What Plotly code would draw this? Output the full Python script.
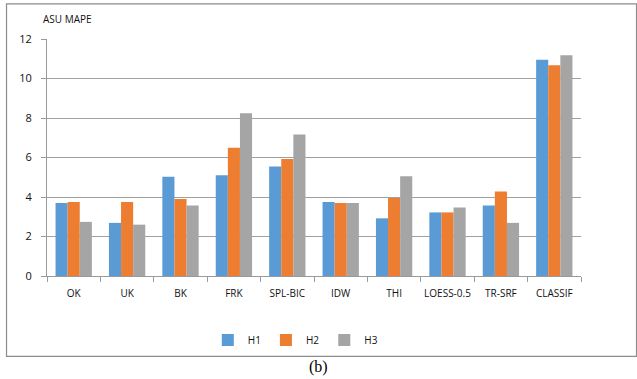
import plotly.graph_objects as go

categories = ["OK", "UK", "BK", "FRK", "SPL-BIC", "IDW", "THI", "LOESS-0.5", "TR-SRF", "CLASSIF"]
h1 = [3.70, 2.69, 5.02, 5.10, 5.55, 3.75, 2.92, 3.22, 3.57, 10.95]
h2 = [3.75, 3.75, 3.90, 6.50, 5.92, 3.70, 3.95, 3.22, 4.28, 10.67]
h3 = [2.74, 2.60, 3.57, 8.24, 7.17, 3.70, 5.05, 3.47, 2.69, 11.18]
series_names = ["H1", "H2", "H3"]
colors = ["#5B9BD5", "#ED7D31", "#A5A5A5"]

fig = go.Figure()
for name, vals, c in zip(series_names, [h1, h2, h3], colors):
    fig.add_trace(go.Bar(x=categories, y=vals, name=name, marker=dict(color=c, line=dict(width=0))))

font = "Open Sans"
fig.update_layout(
    width=637, height=379,
    margin=dict(l=47, r=56, t=39, b=103, autoexpand=False),
    paper_bgcolor="white", plot_bgcolor="white",
    barmode="group", bargap=0.32, bargroupgap=0,
    font=dict(family=font, size=10, color="#111"),
    showlegend=True,
    legend=dict(orientation="h", x=0.465, xanchor="center", y=-0.27, yanchor="middle",
                font=dict(size=10), itemwidth=30, traceorder="normal"),
    xaxis=dict(showgrid=False, showline=True, linecolor="#9a9a9a", linewidth=1, automargin=False,
               tickangle=0,
               ticks="outside", tickson="boundaries", ticklen=5, tickcolor="#9a9a9a",
               tickfont=dict(size=10, family=font), ticklabelstandoff=8),
    yaxis=dict(range=[0, 12], dtick=2, showgrid=True, gridcolor="#a0a0a0", gridwidth=1, automargin=False,
               showline=True, linecolor="#9a9a9a", ticks="outside", ticklen=5, tickcolor="#9a9a9a",
               tickfont=dict(size=11, family=font), zeroline=False, ticklabelstandoff=7),
    shapes=[dict(type="rect", xref="paper", yref="paper", x0=-0.0758, x1=1.104, y0=-0.339, y1=1.148,
                 line=dict(color="#8c8c8c", width=1.2), fillcolor="rgba(0,0,0,0)", layer="below")],
    annotations=[
        dict(text="ASU MAPE", xref="paper", yref="paper", x=-0.011, y=1.085, xanchor="left", yanchor="middle",
             showarrow=False, font=dict(size=10, family=font, color="#111")),
        dict(text="(b)", xref="paper", yref="paper", x=0.508, y=-0.383, xanchor="center", yanchor="middle",
             showarrow=False, font=dict(size=16, family="Liberation Serif", color="#000")),
    ],
)

fig.write_html("out.html", config={"displayModeBar": False},
               post_script="document.body.style.margin='0';document.body.style.overflow='hidden';")
